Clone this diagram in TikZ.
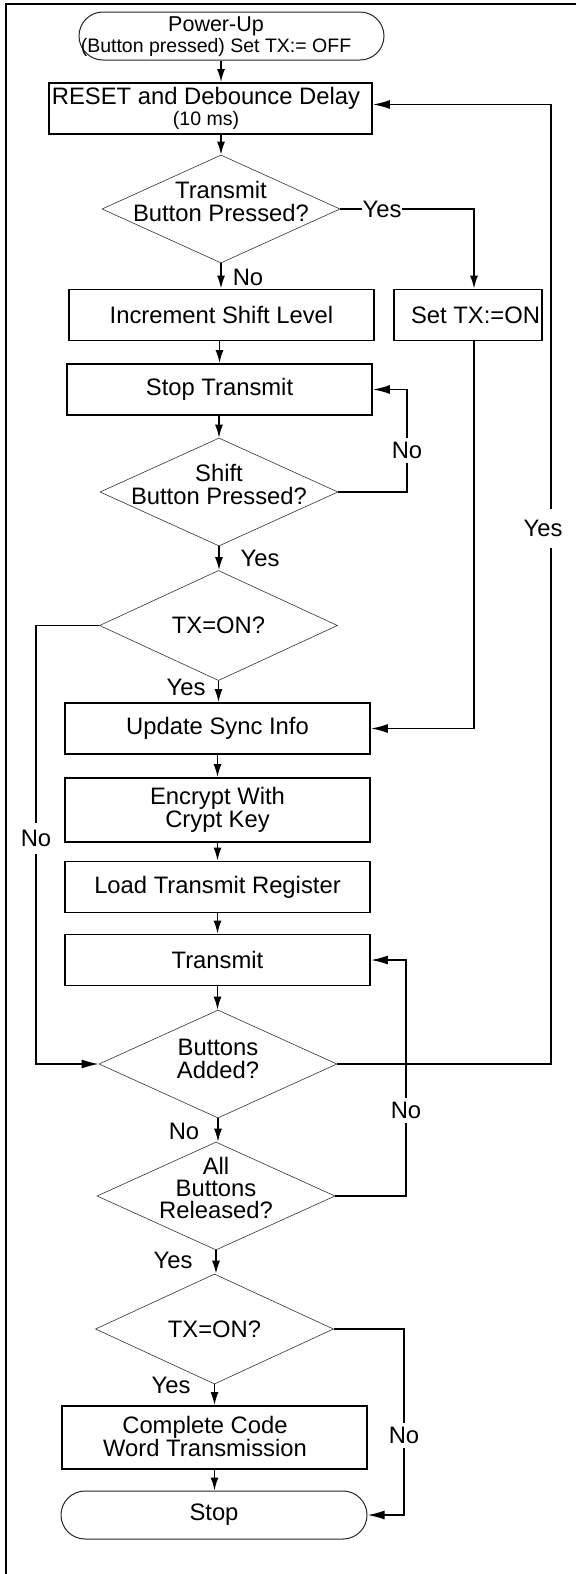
\documentclass[tikz,border=0pt]{standalone}
\usepackage{fontspec}
\setmainfont{Liberation Sans}
\usetikzlibrary{arrows.meta,shapes.geometric,calc}
\newcommand\mainfs{\fontsize{23.8}{23}\selectfont}
\newcommand\smallfs{\fontsize{19.5}{19}\selectfont}
\begin{document}
\begin{tikzpicture}[x=1pt,y=-1pt,
  box/.style={draw, line width=1.8pt, minimum width=305pt, minimum height=51pt, inner sep=0pt, font=\mainfs, align=center},
  diam/.style={draw=black!80, line width=0.6pt, diamond, inner sep=0pt, minimum width=238pt, minimum height=108pt, font=\mainfs},
  term/.style={draw=black!85, line width=1pt, rounded corners=24pt, minimum height=48pt, inner sep=0pt, font=\mainfs},
  txt/.style={font=\mainfs, align=center, inner sep=0pt},
  lbl/.style={font=\mainfs, inner sep=0pt, text height=17pt, text depth=0pt},
  lblw/.style={lbl, fill=white, inner ysep=4pt, inner xsep=1pt},
  line/.style={line width=1.6pt},
  varr/.style={line, -{Latex[length=13pt,width=8pt]}},
  harr/.style={line, -{Latex[length=17pt,width=9pt]}},
]
\useasboundingbox (0,0) rectangle (576,1574);
% frame
\draw[line width=2pt] (576,4) -- (6,4) -- (6,1574);

% nodes
\node[term, minimum width=305pt] (pu) at (231.5,36) {};
\node[txt] (putxt) at (216,36.5) {{\fontsize{21.5}{21}\selectfont Power-Up}\\[-2pt]{\smallfs (Button pressed) Set TX:= OFF}};

\node[box, minimum width=323pt] (reset) at (210.5,108.5) {};
\node[txt] (resettxt) at (206,108) {RESET and Debounce Delay\\[-2pt]{\smallfs (10 ms)}};

\node[diam] (d1) at (221,209) {};
\node[txt] (d1txt) at (221,201.5) {Transmit\\Button Pressed?};

\node[box] (inc) at (221.5,315) {Increment Shift Level};
\node[box, minimum width=148pt] (settx) at (468,315) {\hspace*{15pt}Set TX:=ON};

\node[box] (st) at (219.5,389.5) {Stop Transmit};

\node[diam] (d2) at (219,492) {};
\node[txt] (d2txt) at (219,484.5) {Shift\\Button Pressed?};

\node[diam] (d3) at (218.5,625.5) {TX=ON?};

\node[box] (upd) at (217.5,728.5) {Update Sync Info};
\node[box, minimum height=64pt] (enc) at (217.5,810) {Encrypt With\\Crypt Key};
\node[box] (load) at (217.5,887) {Load Transmit Register};
\node[box] (tx) at (217.5,960) {Transmit};

\node[diam] (d4) at (218,1064) {};
\node[txt] (d4txt) at (218,1059) {Buttons\\Added?};

\node[diam] (d5) at (216,1196) {};
\node[txt] (d5txt) at (216,1188) {All\\[-1pt]Buttons\\[-1pt]Released?};

\node[diam] (d6) at (214.5,1329) {TX=ON?};

\node[box, minimum height=63pt] (comp) at (214.5,1437.5) {};
\node[txt] (comptxt) at (205,1436) {Complete Code\\Word Transmission};

\node[term, minimum width=306pt] (stop) at (214,1515) {Stop};

% bend coordinates
\coordinate (c1) at (474,0);
\coordinate (c2) at (407,0);
\coordinate (c3) at (36,0);
\coordinate (c4) at (551,0);
\coordinate (c5) at (406,0);
\coordinate (c6) at (404,0);

% connectors
\draw[varr] (pu.south -| d1.north) -- (reset.north -| d1.north);
\draw[varr] (reset.south -| d1.north) -- (d1.north);
\draw[varr] (d1.south) -- (d1.south |- inc.north);
\draw[varr] (d1.east) -| (settx.north -| c1);
\draw[varr] (inc.south -| st.north) -- (st.north);
\draw[varr] (st.south -| d2.north) -- (d2.north);
\draw[harr] (d2.east) -| (c2 |- st.east) -- (st.east);
\draw[varr] (d2.south) -- (d2.south |- d3.north);
\draw[harr] (d3.west) -| (c3 |- d4.west) -- (d4.west);
\draw[varr] (d3.south) -- (d3.south |- upd.north);
\draw[harr] (settx.south -| c1) |- (upd.east);
\draw[varr] (upd.south) -- (enc.north);
\draw[varr] (enc.south) -- (load.north);
\draw[varr] (load.south) -- (tx.north);
\draw[varr] (tx.south) -- (tx.south |- d4.north);
\draw[harr] (d4.east) -| ($(c4 |- reset.east)+(0,-4)$) -- ($(reset.east)+(0,-4)$);
\draw[varr] (d4.south) -- (d4.south |- d5.north);
\draw[harr] (d5.east) -| (c5 |- tx.east) -- (tx.east);
\draw[varr] (d5.south) -- (d5.south |- d6.north);
\draw[varr] (d6.south) -- (d6.south |- comp.north);
\draw[harr] (d6.east) -| (c6 |- stop.east) -- (stop.east);
\draw[varr] (comp.south) -- (comp.south |- stop.north);

% labels
\node[lblw] (l1) at (382,209) {Yes};
\node[lbl] (l2) at (248,277) {No};
\node[lblw] (l3) at (407,450) {No};
\node[lbl] (l4) at (260,558) {Yes};
\node[lblw, inner ysep=7pt] (l5) at (36,838) {No};
\node[lbl] (l6) at (186,687) {Yes};
\node[lblw, inner ysep=11pt] (l7) at (543,528) {Yes};
\node[lbl] (l8) at (184,1131) {No};
\node[lblw] (l9) at (406,1110) {No};
\node[lbl] (l10) at (173,1260) {Yes};
\node[lbl] (l11) at (171,1385) {Yes};
\node[lblw] (l12) at (404,1435) {No};
\end{tikzpicture}
\end{document}
